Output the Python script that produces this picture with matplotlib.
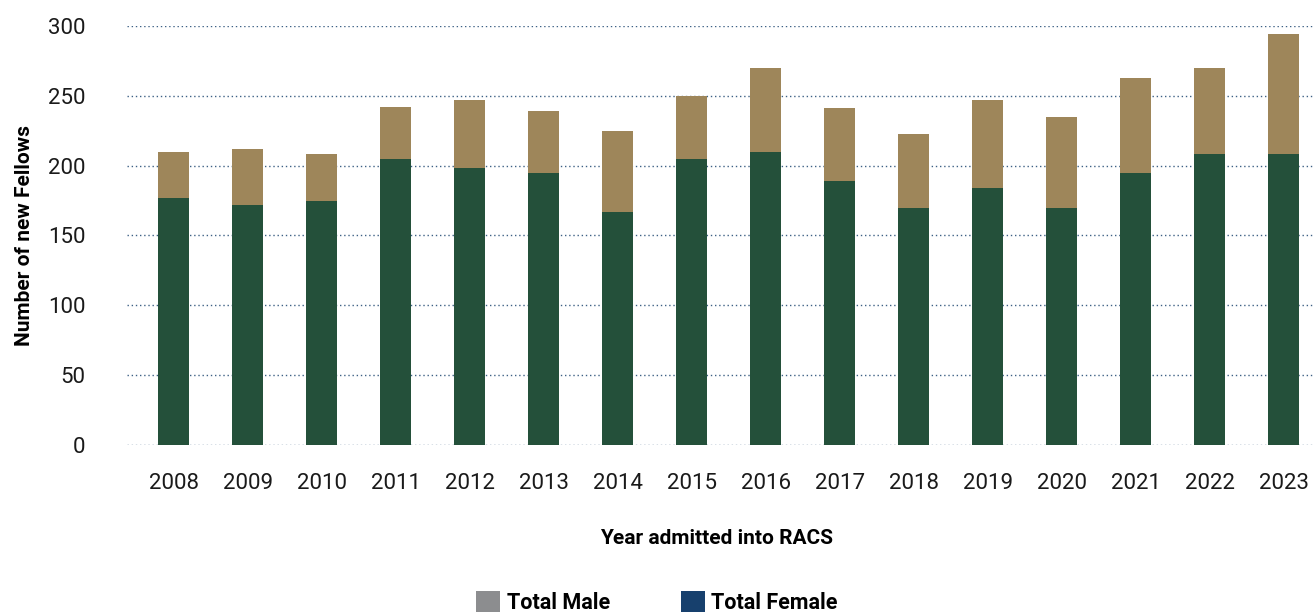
import matplotlib
matplotlib.use("Agg")
import matplotlib.pyplot as plt
from matplotlib.patches import Patch
import numpy as np

years = ["2008", "2009", "2010", "2011", "2012", "2013", "2014", "2015",
         "2016", "2017", "2018", "2019", "2020", "2021", "2022", "2023"]
male = [177, 172, 175, 205, 198, 195, 167, 205, 210, 189, 170, 184, 170, 195, 208, 208]
female = [33, 40, 33, 37, 49, 44, 58, 45, 60, 52, 53, 63, 65, 68, 62, 86]
yticks = [0, 50, 100, 150, 200, 250, 300]

plt.rcParams['font.family'] = ['Roboto', 'DejaVu Sans']

fig = plt.figure(figsize=(13.14, 6.12), dpi=100)
ax = fig.add_axes([0.0967, 0.2729, 0.9033, 0.6846])

x = np.arange(len(years))
green = '#24503A'
tan = '#9E865A'
ax.bar(x, male, width=0.42, color=green, zorder=3)
ax.bar(x, female, width=0.42, bottom=male, color=tan, zorder=3)

ax.set_ylim(0, 300)
ax.set_xlim(-0.63, 15.41)
ax.set_yticks(yticks)
ax.set_yticklabels([str(v) for v in yticks], fontsize=16, color='#1a1a1a')
ax.set_xticks(x)
ax.set_xticklabels(years, fontsize=16, color='#1a1a1a')
ax.tick_params(axis='y', length=0, pad=30)
ax.tick_params(axis='x', length=0, pad=20)

ax.grid(axis='y', color='#3E6185', linestyle=(0, (1, 2)), linewidth=1, zorder=0)
for s in ax.spines.values():
    s.set_visible(False)

ax.set_ylabel("Number of new Fellows", fontsize=15, fontweight='bold')
ax.yaxis.set_label_coords(-0.078, 0.5)
ax.set_xlabel("Year admitted into RACS", fontsize=15, fontweight='bold')
ax.xaxis.set_label_coords(0.497, -0.2)

handles = [Patch(facecolor='#8C8D8F', label='Total Male'),
           Patch(facecolor='#17406D', label='Total Female')]
leg = fig.legend(handles=handles, loc='center', bbox_to_anchor=(0.5, 0.015), ncol=2,
                 frameon=False, handlelength=1.1, handleheight=1.1, handletextpad=0.3,
                 columnspacing=3.3, prop={'size': 15.5, 'weight': 'bold'})

fig.savefig("out.png", dpi=100)
